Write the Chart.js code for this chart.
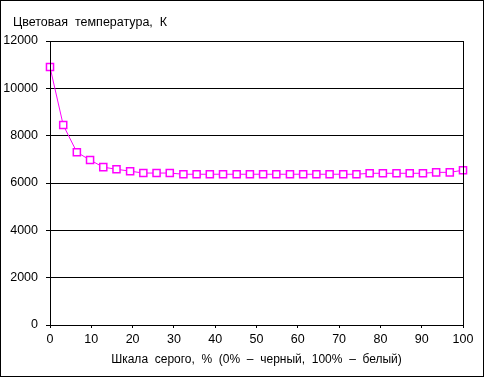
<!DOCTYPE html>
<html>
<head>
<meta charset="utf-8">
<script src="https://cdn.jsdelivr.net/npm/chart.js@4"></script>
<style>
  html, body { margin: 0; padding: 0; background: #fff; }
  #wrap { width: 484px; height: 377px; position: relative; }
</style>
</head>
<body>
<div id="wrap"><canvas id="tempChart"></canvas></div>
<script>
// шкала серого, % (32 ступени)
const grayLevels = [0, 3.2, 6.5, 9.7, 12.9, 16.1, 19.4, 22.6, 25.8, 29.0, 32.3, 35.5, 38.7, 41.9, 45.2, 48.4,
    51.6, 54.8, 58.1, 61.3, 64.5, 67.7, 71.0, 74.2, 77.4, 80.6, 83.9, 87.1, 90.3, 93.5, 96.8, 100];
// цветовая температура, K
const colorTemps = [10900, 8450, 7300, 6970, 6670, 6580, 6500, 6420, 6420, 6420, 6370, 6370, 6370, 6370, 6370, 6370,
    6370, 6370, 6370, 6370, 6370, 6370, 6370, 6370, 6410, 6410, 6410, 6410, 6410, 6450, 6450, 6540];
const xTicks = [0, 10, 20, 30, 40, 50, 60, 70, 80, 90, 100];
const yTicks = [0, 2000, 4000, 6000, 8000, 10000, 12000];

const fontFamily = "'Liberation Sans', Arial, sans-serif";

const framePlugin = {
    id: "frame",
    beforeDraw(chart) {
        const ctx = chart.ctx;
        ctx.save();
        ctx.fillStyle = "#fff";
        ctx.fillRect(0, 0, chart.width, chart.height);
        ctx.restore();
    },
    afterDraw(chart) {
        const ctx = chart.ctx;
        const a = chart.chartArea;
        ctx.save();
        ctx.strokeStyle = "#000";
        ctx.lineWidth = 1;
        ctx.strokeRect(Math.round(a.left) + 0.5, Math.round(a.top) + 0.5,
            Math.round(a.right - a.left), Math.round(a.bottom - a.top));
        ctx.strokeRect(0.5, 0.5, chart.width - 1, chart.height - 1);
        ctx.fillStyle = "#000";
        ctx.font = "12.5px " + fontFamily;
        ctx.textBaseline = "alphabetic";
        ctx.fillText("Цветовая  температура,  К", 13, 26);
        ctx.restore();
    }
};

new Chart(document.getElementById("tempChart"), {
    type: "line",
    data: {
        datasets: [{
            data: grayLevels.map((x, i) => ({ x: x, y: colorTemps[i] })),
            borderColor: "#ff00ff",
            borderWidth: 1,
            backgroundColor: "#ffffff",
            pointStyle: "rect",
            pointRadius: 5,
            pointBorderWidth: 1.5,
            pointBorderColor: "#ff00ff",
            pointBackgroundColor: "#ffffff",
            tension: 0,
            clip: false
        }]
    },
    options: {
        responsive: true,
        maintainAspectRatio: false,
        animation: false,
        layout: { padding: { top: 41, right: 21, left: 0, bottom: 0 } },
        plugins: {
            legend: { display: false },
            tooltip: { enabled: false }
        },
        scales: {
            x: {
                type: "linear",
                min: 0,
                max: 100,
                afterBuildTicks(scale) { scale.ticks = xTicks.map(v => ({ value: v })); },
                afterFit(scale) { scale.height = 52; },
                grid: { drawOnChartArea: false, drawTicks: true, tickLength: 3, color: "#000" },
                border: { display: true, color: "#000", width: 1 },
                ticks: {
                    color: "#000",
                    font: { family: fontFamily, size: 12.5 },
                    padding: 4,
                    maxRotation: 0,
                    callback: (v) => String(v)
                },
                title: {
                    display: true,
                    text: "Шкала  серого,  %  (0%  –  черный,  100%  –  белый)",
                    color: "#000",
                    font: { family: fontFamily, size: 12 },
                    padding: { top: 0, bottom: 10 }
                }
            },
            y: {
                min: 0,
                max: 12000,
                afterBuildTicks(scale) { scale.ticks = yTicks.map(v => ({ value: v })); },
                afterFit(scale) { scale.width = 50; },
                grid: { color: "#000", lineWidth: 1, tickLength: 4 },
                border: { display: true, color: "#000", width: 1 },
                ticks: {
                    color: "#000",
                    font: { family: fontFamily, size: 12.5 },
                    padding: 8,
                    callback: (v) => String(v)
                }
            }
        }
    },
    plugins: [framePlugin]
});
</script>
</body>
</html>
